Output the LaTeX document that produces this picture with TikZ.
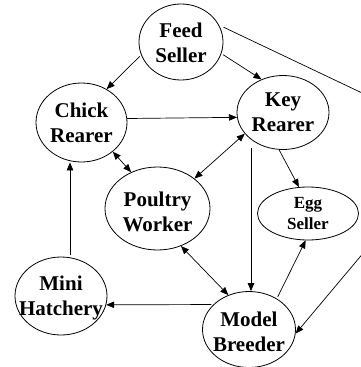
\documentclass[tikz,border=0pt]{standalone}
\usepackage{fontspec}
\setmainfont{Liberation Serif}
\usetikzlibrary{shapes.geometric,arrows.meta}
\tikzset{
  actor/.style={draw, ellipse, line width=0.8pt, inner sep=0pt},
  lbl/.style={font=\fontsize{21}{25}\selectfont\bfseries, align=center, inner sep=0pt},
  small/.style={font=\fontsize{17}{21}\selectfont\bfseries, align=center, inner sep=0pt},
  tip/.tip={Triangle[length=8pt,width=6.5pt]},
  link/.style={-tip, line width=0.7pt, shorten <=2pt},
  both/.style={tip-tip, line width=0.7pt},
}
\begin{document}
\begin{tikzpicture}[x=1pt,y=-1pt]
\useasboundingbox (0,0) rectangle (361,367);
\clip (0,0) rectangle (361,367);

% actors
\node[actor, minimum width=84pt,  minimum height=76pt] (fs) at (181,42) {};
\node[actor, minimum width=91pt,  minimum height=79pt] (cr) at (81.5,122.5) {};
\node[actor, minimum width=92pt,  minimum height=74pt] (kr) at (283,112.5) {};
\node[actor, minimum width=105pt, minimum height=83pt] (pw) at (157.5,208.5) {};
\node[actor, minimum width=101pt, minimum height=53pt] (es) at (308,213.5) {};
\node[actor, minimum width=92pt,  minimum height=78pt] (mh) at (61,296) {};
\node[actor, minimum width=93pt,  minimum height=76pt] (mb) at (249,329.5) {};

% names
\node[lbl] (fsT) at ([yshift=-1pt]fs) {Feed\\Seller};
\node[lbl] (crT) at (cr) {Chick\\Rearer};
\node[lbl] (krT) at (kr) {Key\\Rearer};
\node[lbl] (pwT) at ([yshift=-3pt]pw) {Poultry\\Worker};
\node[small] (esT) at (es) {Egg\\Seller};
\node[lbl] (mhT) at ([yshift=-2pt]mh) {Mini\\Hatchery};
\node[lbl] (mbT) at ([yshift=-2pt]mb) {Model\\Breeder};

% flows
\draw[link] (fs.198) -- (cr.53);
\draw[link] (fs.-16) -- (kr.123);
\coordinate (bend) at (459,139);
\draw[link, shorten <=5pt] (fs.24) -- (bend) -- (mb.-5);
\draw[link, shorten <=0pt] (cr.5.7) -- (kr.186.9);
\draw[both] (cr.-43) -- (pw.126);
\draw[both] (kr.209) -- (pw.39);
\draw[link, shorten <=0pt] (kr.264) -- (es.109);
\coordinate (kv) at ([xshift=-32pt,yshift=2pt]kr.south);
\draw[link, shorten <=0pt] (kv) -- (kv |- mb.north);
\draw[both] (pw.-58) -- (mb.121.6);
\draw[link] (mb.48) -- (es.265);
\draw[link] (mb.145.4) -- (mh.-11.4);
\coordinate (hv) at ([xshift=9pt]mh.north);
\draw[link] (hv) -- (hv |- cr.south);
\end{tikzpicture}
\end{document}
